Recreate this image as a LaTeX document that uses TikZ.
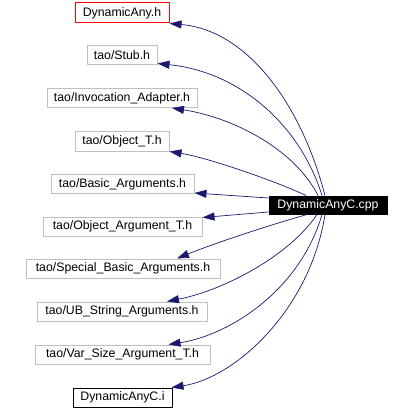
\documentclass[tikz,border=0pt]{standalone}
\usepackage{fontspec}
\setmainfont{Liberation Sans}
\usetikzlibrary{arrows.meta,calc}
\definecolor{edgeblue}{RGB}{25,25,112}
\definecolor{boxgray}{RGB}{191,191,191}
\begin{document}
\begin{tikzpicture}[x=1pt,y=-1pt,
  file/.style={draw=boxgray,line width=1pt,fill=white,minimum height=19pt,inner sep=0pt,
    font=\fontsize{12.3}{14}\selectfont},
  dep/.style={draw=edgeblue,line width=0.7pt,-{Triangle[length=12pt,width=8pt]},color=edgeblue}]
\useasboundingbox (0,0) rectangle (412,409);
\node[file,draw=red,minimum width=94pt,minimum height=20pt] (a) at (122,13) {DynamicAny.h};
\node[file,minimum width=70pt] (b) at (122,55.5) {tao/Stub.h};
\node[file,minimum width=150pt] (c) at (122,98) {tao/Invocation\_Adapter.h};
\node[file,minimum width=94pt] (d) at (122,141.5) {tao/Object\_T.h};
\node[file,minimum width=143pt] (e) at (122.5,184) {tao/Basic\_Arguments.h};
\node[file,minimum width=159pt] (f) at (122.5,226.5) {tao/Object\_Argument\_T.h};
\node[file,minimum width=194pt] (g) at (123,268.5) {tao/Special\_Basic\_Arguments.h};
\node[file,minimum width=170pt] (h) at (122,311.5) {tao/UB\_String\_Arguments.h};
\node[file,minimum width=175pt] (i) at (122.5,354.5) {tao/Var\_Size\_Argument\_T.h};
\node[file,draw=black,minimum width=99pt] (j) at (122.5,397.5) {DynamicAnyC.i};
\node[file,draw=black,fill=black,text=white,minimum width=118pt,minimum height=18pt] (cpp) at (328,205) {DynamicAnyC.cpp};
% edges
\draw[dep] ($(cpp.north)+(-3,0)$) .. controls (300,100) and (245,30) .. (a.south east);
\draw[dep] ($(cpp.north)+(-6,0)$) .. controls (300,125) and (240,72) .. ($(b.south east)+(0,-2)$);
\draw[dep] ($(cpp.north)+(-10,0)$) .. controls (295,150) and (235,118) .. ($(c.south)+(50,0)$);
\draw[dep] ($(cpp.north)+(-22,0)$) .. controls (280,183) and (210,158) .. (d.south east);
\draw[dep] ($(cpp.west)+(0,-7)$) -- ($(e.south east)+(0,-1)$);
\draw[dep] ($(cpp.west)+(0,7)$) -- ($(f.north east)+(0,1)$);
\draw[dep] ($(cpp.south)+(-21,0)$) .. controls (270,225) and (215,243) .. ($(g.north)+(54,0)$);
\draw[dep] ($(cpp.south)+(-11,0)$) .. controls (290,255) and (225,290) .. ($(h.north)+(45,0)$);
\draw[dep] ($(cpp.south)+(-6,0)$) .. controls (300,290) and (230,335) .. ($(i.north)+(46,0)$);
\draw[dep] ($(cpp.south)+(-3,0)$) .. controls (310,310) and (235,378) .. ($(j.north east)+(-1,0)$);
\end{tikzpicture}
\end{document}
